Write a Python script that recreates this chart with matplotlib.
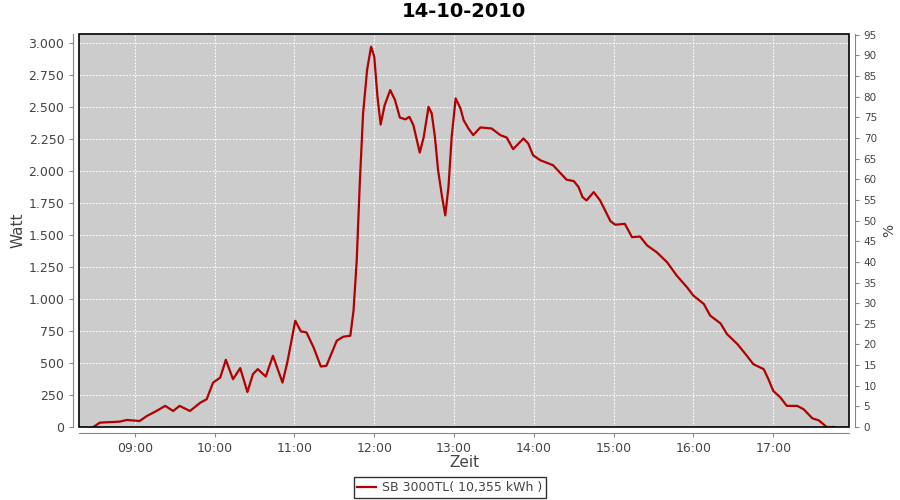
import matplotlib
matplotlib.use("Agg")
import matplotlib.pyplot as plt
from matplotlib.ticker import FuncFormatter, MultipleLocator
from matplotlib.patches import Rectangle

# time of day in decimal hours, power in W
hours = [8.48, 8.56, 8.81, 8.90, 9.06, 9.15, 9.27, 9.38, 9.48, 9.56, 9.69, 9.82,
         9.90, 9.98, 10.07, 10.14, 10.23, 10.32, 10.41, 10.48, 10.54, 10.64, 10.73,
         10.85, 10.91, 11.01, 11.08, 11.15, 11.24, 11.33, 11.40, 11.53, 11.61, 11.70,
         11.74, 11.78, 11.82, 11.86, 11.91, 11.96, 12.00, 12.04, 12.08, 12.13, 12.20,
         12.26, 12.32, 12.39, 12.44, 12.49, 12.57, 12.62, 12.68, 12.72, 12.76, 12.80,
         12.85, 12.89, 12.93, 12.97, 13.02, 13.08, 13.12, 13.18, 13.24, 13.33, 13.47,
         13.58, 13.66, 13.74, 13.87, 13.93, 13.99, 14.08, 14.24, 14.41, 14.50, 14.56,
         14.61, 14.66, 14.75, 14.83, 14.96, 15.02, 15.14, 15.23, 15.33, 15.42, 15.54,
         15.67, 15.79, 15.92, 16.00, 16.13, 16.21, 16.34, 16.42, 16.55, 16.67, 16.75,
         16.88, 16.94, 17.00, 17.09, 17.17, 17.30, 17.38, 17.49, 17.57, 17.67, 17.76]
watt = [0, 34, 42, 55, 47, 86, 125, 165, 125, 165, 125, 190,
        217, 347, 386, 525, 373, 460, 274, 413, 452, 394, 556,
        347, 504, 830, 747, 739, 621, 473, 478, 674, 705, 713,
        909, 1300, 1927, 2450, 2789, 2971, 2893, 2580, 2363, 2514, 2632,
        2554, 2418, 2403, 2423, 2358, 2144, 2266, 2501, 2450, 2266, 2005,
        1796, 1653, 1875, 2266, 2567, 2489, 2397, 2332, 2280, 2340, 2332,
        2280, 2261, 2170, 2254, 2214, 2123, 2084, 2045, 1932, 1921, 1875,
        1796, 1770, 1835, 1770, 1608, 1580, 1587, 1483, 1488, 1418, 1365,
        1287, 1183, 1091, 1026, 961, 870, 809, 726, 648, 556, 491,
        452, 373, 282, 230, 165, 165, 139, 68, 52, 0, 0]

title = "14-10-2010"
legend_label = "SB 3000TL( 10,355 kWh )"

grey = "#444444"
fig = plt.figure(figsize=(9, 5), dpi=100)
ax = fig.add_axes([0.0878, 0.146, 0.8556, 0.786])
ax.set_facecolor("#cccccc")

line, = ax.plot(hours, watt, color="#b00000", lw=1.6, label=legend_label)

ax.set_xlim(8.30, 17.95)
ax.set_ylim(0, 3070)
ax.xaxis.set_major_locator(MultipleLocator(1))
ax.xaxis.set_major_formatter(FuncFormatter(lambda v, p: "%02d:00" % round(v)))
ax.yaxis.set_major_locator(MultipleLocator(250))
ax.yaxis.set_major_formatter(FuncFormatter(lambda v, p: f"{int(round(v)):,}".replace(",", ".")))
ax.grid(True, color="white", linestyle=(0, (1.5, 1.5)), lw=0.8)

for s in ["top", "right"]:
    ax.spines[s].set_visible(False)
for s in ["left", "bottom"]:
    ax.spines[s].set_position(("outward", 4))
    ax.spines[s].set_color("#888888")
ax.add_patch(Rectangle((0, 0), 1, 1, transform=ax.transAxes, fill=False,
                       ec="black", lw=1.2, clip_on=False, zorder=5))
ax.tick_params(colors="#888888", labelcolor=grey, labelsize=9, length=3)

ax.set_xlabel("Zeit", fontsize=11, color=grey, labelpad=0)
ax.set_ylabel("Watt", fontsize=11, color=grey, labelpad=2)
ax.set_title(title, fontsize=14, fontweight="bold", pad=12)

ax2 = ax.twinx()
ax2.set_ylim(0, 95.2)
ax2.yaxis.set_major_locator(MultipleLocator(5))
for s in ["top", "left", "bottom"]:
    ax2.spines[s].set_visible(False)
ax2.spines["right"].set_position(("outward", 4))
ax2.spines["right"].set_color("#888888")
ax2.tick_params(colors="#888888", labelcolor=grey, labelsize=7.5, length=3)
ax2.set_ylabel("%", fontsize=10, color=grey, labelpad=4)

leg = fig.legend(handles=[line], loc="lower center", bbox_to_anchor=(0.5, -0.008),
                 fontsize=9, frameon=True, fancybox=False, handlelength=1.5,
                 borderpad=0.3, handletextpad=0.5)
leg.get_frame().set_edgecolor("black")
leg.get_frame().set_linewidth(1)
for t in leg.get_texts():
    t.set_color(grey)

fig.savefig("out.png", dpi=100)
